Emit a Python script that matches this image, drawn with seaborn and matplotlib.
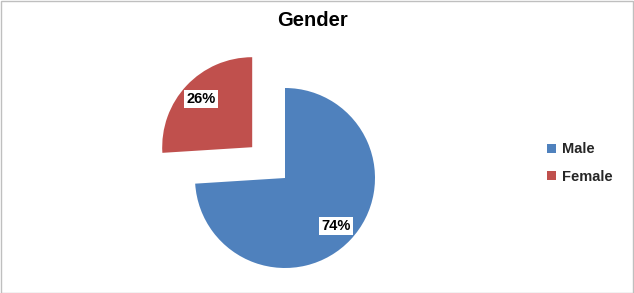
import matplotlib
matplotlib.use("Agg")
import matplotlib.pyplot as plt
import seaborn as sns
from matplotlib.patches import Rectangle

categories = ["Male", "Female"]
values = [74, 26]
colors = ["#4F81BD", "#C0504D"]
title = "Gender"

sns.set_theme(style="white")
plt.rcParams["font.family"] = ["Liberation Sans", "DejaVu Sans"]

W, H = 634, 293
fig = plt.figure(figsize=(W / 100, H / 100), dpi=100)
fig.patch.set_facecolor("white")

# axes: pixel x 135..435, y 40..293 (top-origin); pie centre at (285,178), r=90px
ax = fig.add_axes([135 / W, 0 / H, 300 / W, 253 / H])
wedges, texts, autotexts = ax.pie(
    values,
    colors=colors,
    startangle=90,
    counterclock=False,
    explode=[0, 0.5],
    autopct=lambda p: f"{p:.0f}%",
    pctdistance=0.78,
    wedgeprops=dict(linewidth=0),
    textprops=dict(fontsize=10.5, fontweight="bold", color="black"),
)
for t in autotexts:
    t.set_bbox(dict(facecolor="white", edgecolor="none", pad=1.5))
ax.set_aspect("auto")
ax.set_xlim(-150 / 90, 150 / 90)
ax.set_ylim(-115 / 90, 138 / 90)
ax.axis("off")

fig.text(313 / W, 1 - 21 / H, title, ha="center", va="center",
         fontsize=14.5, fontweight="bold", color="black")

leg = fig.legend(wedges, categories, loc="center left",
                 bbox_to_anchor=(534 / W, 1 - 163 / H),
                 frameon=False, handlelength=0.6, handleheight=0.6,
                 handletextpad=0.45, labelspacing=0.9,
                 prop=dict(size=10.5, weight="bold"))

fig.add_artist(Rectangle((0.5 / W, 0.5 / H), 1 - 1.5 / W, 1 - 1.5 / H,
                         transform=fig.transFigure, fill=False,
                         edgecolor="#BFBFBF", linewidth=1))

fig.savefig("out.png", dpi=100)
